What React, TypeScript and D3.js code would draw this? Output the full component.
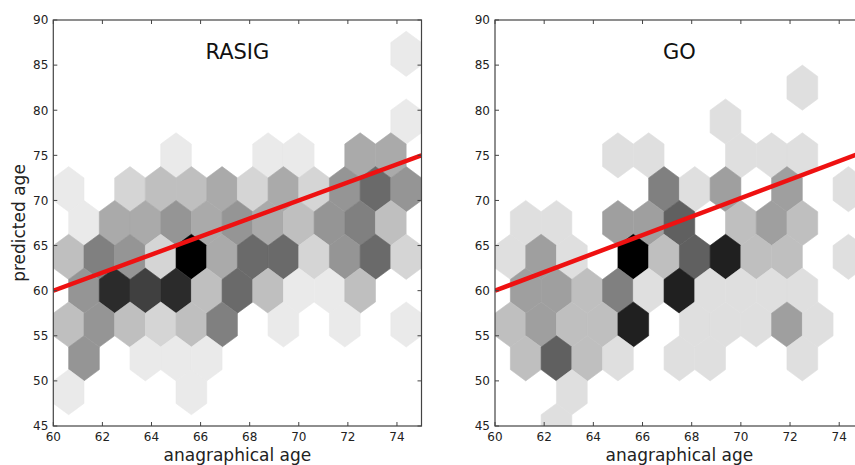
import React from "react";
import * as d3 from "d3";

// Shared axis settings for both hexbin panels
const xDomain: [number, number] = [60, 75];
const yDomain: [number, number] = [45, 90];
const xTicks = [60, 62, 64, 66, 68, 70, 72, 74];
const yTicks = [45, 50, 55, 60, 65, 70, 75, 80, 85, 90];
const gridSize = 12;

// Hexagon centres: [anagraphical age, predicted age, count]
const rasigBins: [number, number, number][] = [
  [74.375, 86.25, 1],
  [74.375, 78.75, 1],
  [65, 75, 1], [68.75, 75, 1], [70, 75, 1], [72.5, 75, 4], [73.75, 75, 4],
  [60.625, 71.25, 1], [63.125, 71.25, 2], [64.375, 71.25, 3], [65.625, 71.25, 3],
  [66.875, 71.25, 4], [68.125, 71.25, 2], [69.375, 71.25, 4], [70.625, 71.25, 2],
  [71.875, 71.25, 5], [73.125, 71.25, 7], [74.375, 71.25, 5],
  [61.25, 67.5, 1], [62.5, 67.5, 4], [63.75, 67.5, 4], [65, 67.5, 5], [66.25, 67.5, 4],
  [67.5, 67.5, 5], [68.75, 67.5, 4], [70, 67.5, 3], [71.25, 67.5, 5], [72.5, 67.5, 6],
  [73.75, 67.5, 3],
  [60.625, 63.75, 3], [61.875, 63.75, 6], [63.125, 63.75, 5], [64.375, 63.75, 2],
  [65.625, 63.75, 12], [66.875, 63.75, 4], [68.125, 63.75, 7], [69.375, 63.75, 7],
  [70.625, 63.75, 2], [71.875, 63.75, 5], [73.125, 63.75, 7], [74.375, 63.75, 2],
  [61.25, 60, 5], [62.5, 60, 10], [63.75, 60, 9], [65, 60, 10], [66.25, 60, 3],
  [67.5, 60, 7], [68.75, 60, 3], [70, 60, 1], [71.25, 60, 1], [72.5, 60, 3],
  [60.625, 56.25, 3], [61.875, 56.25, 5], [63.125, 56.25, 3], [64.375, 56.25, 2],
  [65.625, 56.25, 3], [66.875, 56.25, 6], [69.375, 56.25, 1], [71.875, 56.25, 1],
  [74.375, 56.25, 1],
  [61.25, 52.5, 5], [63.75, 52.5, 1], [65, 52.5, 1], [66.25, 52.5, 1],
  [60.625, 48.75, 1], [65.625, 48.75, 1],
];

const goBins: [number, number, number][] = [
  [72.5, 82.5, 1],
  [69.375, 78.75, 1],
  [65, 75, 1], [66.25, 75, 1], [70, 75, 1], [71.25, 75, 1], [72.5, 75, 1],
  [66.875, 71.25, 4], [68.125, 71.25, 1], [69.375, 71.25, 3], [71.875, 71.25, 3],
  [74.375, 71.25, 1],
  [61.25, 67.5, 1], [62.5, 67.5, 1], [65, 67.5, 3], [66.25, 67.5, 3], [67.5, 67.5, 5],
  [70, 67.5, 2], [71.25, 67.5, 3], [72.5, 67.5, 2],
  [60.625, 63.75, 1], [61.875, 63.75, 3], [63.125, 63.75, 1], [65.625, 63.75, 8],
  [66.875, 63.75, 2], [68.125, 63.75, 5], [69.375, 63.75, 7], [70.625, 63.75, 2],
  [71.875, 63.75, 2], [74.375, 63.75, 1],
  [61.25, 60, 3], [62.5, 60, 3], [63.75, 60, 2], [65, 60, 4], [66.25, 60, 1],
  [67.5, 60, 7], [68.75, 60, 1], [70, 60, 1], [71.25, 60, 1], [72.5, 60, 1],
  [60.625, 56.25, 2], [61.875, 56.25, 3], [63.125, 56.25, 2], [64.375, 56.25, 2],
  [65.625, 56.25, 7], [68.125, 56.25, 1], [69.375, 56.25, 1], [70.625, 56.25, 1],
  [71.875, 56.25, 3], [73.125, 56.25, 1],
  [61.25, 52.5, 2], [62.5, 52.5, 5], [63.75, 52.5, 2], [65, 52.5, 1], [67.5, 52.5, 1],
  [68.75, 52.5, 1], [72.5, 52.5, 1],
  [63.125, 48.75, 1],
  [62.5, 45, 1],
];

// Regression lines: [anagraphical age, predicted age]
const rasigFit: [number, number][] = [[60, 60], [75, 75]];
const goFit: [number, number][] = [[60, 60], [75, 75.4]];

const FONT = "DejaVu Sans, Verdana, sans-serif";

// Hexagon corner offsets in data units (pointy-top cells)
const sx = (xDomain[1] - xDomain[0]) / gridSize;
const sy = (yDomain[1] - yDomain[0]) / Math.floor(gridSize / Math.sqrt(3));
const hexCorners: [number, number][] = [
  [0.5, -0.5], [0.5, 0.5], [0, 1], [-0.5, 0.5], [-0.5, -0.5], [0, -1],
].map(([a, b]) => [a * sx, (b * sy) / 3]);

type PanelProps = {
  id: string;
  left: number;
  width: number;
  top: number;
  height: number;
  bins: [number, number, number][];
  fit: [number, number][];
  title: string;
  yLabel?: string;
  xLabel: string;
};

function Panel({ id, left, width, top, height, bins, fit, title, yLabel, xLabel }: PanelProps) {
  const x = d3.scaleLinear().domain(xDomain).range([left, left + width]);
  const y = d3.scaleLinear().domain(yDomain).range([top + height, top]);
  const maxCount = d3.max(bins, (d) => d[2]) ?? 1;
  const color = d3.scaleLinear<string>().domain([0, maxCount]).range(["#ffffff", "#000000"]);
  const line = d3.line<[number, number]>().x((d) => x(d[0])).y((d) => y(d[1]));
  const bottom = top + height;
  const right = left + width;
  const tick = 4;
  const axisColor = "#444";
  const labelColor = "#222";

  return (
    <g>
      <defs>
        <clipPath id={id}>
          <rect x={left} y={top} width={width} height={height} />
        </clipPath>
      </defs>
      <g clipPath={`url(#${id})`}>
        {bins.map(([cx, cy, c], i) => {
          const pts = hexCorners.map(([dx, dy]) => [x(cx + dx), y(cy + dy)] as [number, number]);
          const d = "M" + pts.map((p) => p.join(",")).join("L") + "Z";
          const fill = color(c);
          return <path key={i} d={d} fill={fill} stroke={fill} strokeWidth={0.6} />;
        })}
        <path d={line(fit) ?? ""} fill="none" stroke="#ee1111" strokeWidth={4.5} />
      </g>
      <rect x={left} y={top} width={width} height={height} fill="none" stroke={axisColor} strokeWidth={1.2} />
      {xTicks.map((t) => (
        <g key={"x" + t}>
          <line x1={x(t)} x2={x(t)} y1={bottom} y2={bottom - tick} stroke={axisColor} strokeWidth={1} />
          <line x1={x(t)} x2={x(t)} y1={top} y2={top + tick} stroke={axisColor} strokeWidth={1} />
          <text x={x(t)} y={bottom + 15} textAnchor="middle" fontSize={12} fill={labelColor} fontFamily={FONT}>
            {t}
          </text>
        </g>
      ))}
      {yTicks.map((t) => (
        <g key={"y" + t}>
          <line x1={left} x2={left + tick} y1={y(t)} y2={y(t)} stroke={axisColor} strokeWidth={1} />
          <line x1={right} x2={right - tick} y1={y(t)} y2={y(t)} stroke={axisColor} strokeWidth={1} />
          <text x={left - 5} y={y(t) + 4.3} textAnchor="end" fontSize={12} fill={labelColor} fontFamily={FONT}>
            {t}
          </text>
        </g>
      ))}
      <text x={left + width / 2} y={58.5} textAnchor="middle" fontSize={21} fill="#111" fontFamily={FONT}>
        {title}
      </text>
      <text x={left + width / 2} y={461} textAnchor="middle" fontSize={17} fill="#222" fontFamily={FONT}>
        {xLabel}
      </text>
      {yLabel && (
        <text
          transform={`translate(25,${top + height / 2}) rotate(-90)`}
          textAnchor="middle"
          fontSize={17}
          fill="#222"
          fontFamily={FONT}
        >
          {yLabel}
        </text>
      )}
    </g>
  );
}

export default function App() {
  return (
    <svg
      width={855}
      height={465}
      style={{ position: "absolute", left: 0, top: 0, background: "#fff" }}
    >
      <rect width={855} height={465} fill="#fff" />
      <Panel
        id="clip-rasig"
        left={53.3}
        width={368.2}
        top={20}
        height={406}
        bins={rasigBins}
        fit={rasigFit}
        title="RASIG"
        yLabel="predicted age"
        xLabel="anagraphical age"
      />
      <Panel
        id="clip-go"
        left={495}
        width={368.8}
        top={20}
        height={406}
        bins={goBins}
        fit={goFit}
        title="GO"
        xLabel="anagraphical age"
      />
    </svg>
  );
}
